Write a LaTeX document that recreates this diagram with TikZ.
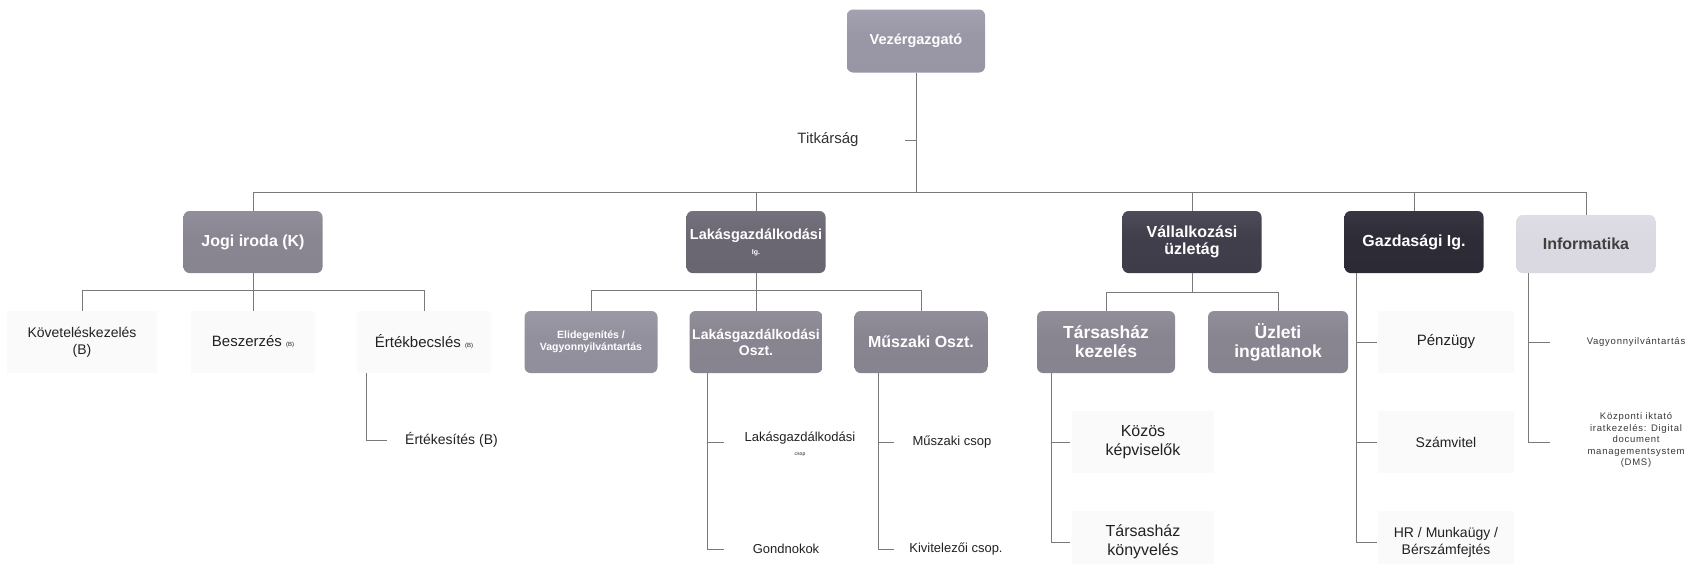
\documentclass[tikz,border=0pt]{standalone}
\usepackage{fontspec}
\setmainfont{Liberation Sans}
\definecolor{linegray}{HTML}{7A7A7A}
\definecolor{faint}{HTML}{FAFAFB}
\definecolor{txt}{HTML}{222222}
\definecolor{vezTop}{HTML}{C6C3D0}\definecolor{vezBot}{HTML}{9693A2}
\definecolor{jogiTop}{HTML}{B0ADB9}\definecolor{jogiBot}{HTML}{86838F}
\definecolor{lakTop}{HTML}{96939F}\definecolor{lakBot}{HTML}{67646F}
\definecolor{vallTop}{HTML}{7A7786}\definecolor{vallBot}{HTML}{3C3A46}
\definecolor{gazdTop}{HTML}{5A5864}\definecolor{gazdBot}{HTML}{2A2832}
\definecolor{infTop}{HTML}{ECEAF0}\definecolor{infBot}{HTML}{D9D7DF}
\definecolor{lthTop}{HTML}{B0ADB9}\definecolor{lthBot}{HTML}{85828E}
\definecolor{elidTop}{HTML}{BAB7C3}\definecolor{elidBot}{HTML}{908D9A}
\newcommand\mkshade[1]{\pgfdeclareverticalshading{#1sh}{100bp}{%
  color(0bp)=(#1Bot); color(55bp)=(#1Bot!92!#1Top); color(85bp)=(#1Bot!60!#1Top); color(100bp)=(#1Top)}}
\mkshade{vez}\mkshade{jogi}\mkshade{lak}\mkshade{vall}\mkshade{gazd}\mkshade{inf}\mkshade{lth}\mkshade{elid}
\begin{document}
\begin{tikzpicture}[x=1pt,y=-1pt,
  conn/.style={draw=linegray, line width=0.8pt},
  box/.style={rounded corners=6pt, minimum width=139pt, minimum height=62pt,
    align=center, text=white, inner sep=2pt,
    font=\bfseries\fontsize{16}{17.5}\selectfont},
  shadebox/.style={box, shading=#1sh},
  leaf/.style={fill=faint, align=center, text=txt, inner sep=2pt,
    minimum height=62pt, font=\fontsize{14}{17}\selectfont},
  plain/.style={align=center, text=txt, inner sep=0pt, font=\fontsize{14}{17}\selectfont},
  small/.style={align=center, text=txt!90, inner sep=0pt,
    font=\fontsize{9.5}{11.5}\selectfont\addfontfeatures{LetterSpace=8}}
]
\useasboundingbox (0,0) rectangle (1688,563);
\fill[white] (0,0) rectangle (1688,563);

% top
\node[shadebox=vez, minimum width=138pt, minimum height=63pt,
  font=\bfseries\fontsize{14.5}{16}\selectfont] (vez) at (916,41) {Vezérgazgató};
\node[plain, text=black!80, font=\fontsize{15}{17}\selectfont] (tit) at (828,140) {Titkárság};

% level 2
\node[shadebox=jogi] (jogi) at (253,242) {Jogi iroda (K)};
\node[shadebox=lak, font=\bfseries\fontsize{14.5}{16}\selectfont] (lak) at (756,242)
  {Lakásgazdálkodási\\[-1pt]{\fontsize{7}{8}\selectfont Ig.}};
\node[shadebox=vall] (vall) at (1192,242) {Vállalkozási\\üzletág};
\node[shadebox=gazd] (gazd) at (1414,242) {Gazdasági Ig.};
\node[shadebox=inf, minimum height=58pt, text=black!75] (inf) at (1586,244) {Informatika};

\coordinate (busy) at (0,192);
\draw[conn] (vez.south) -- (vez.south |- busy);
\draw[conn] (tit.east -| vez.south) -- ++(-11,0);
\draw[conn] (jogi.north) -- (jogi.north |- busy) -| (inf.north);
\foreach \n in {lak,vall,gazd} \draw[conn] (\n.north) -- (\n.north |- busy);

% Jogi iroda children
\node[leaf, minimum width=150pt] (kov) at (82,342) {Követeléskezelés\\(B)};
\node[leaf, minimum width=124pt, font=\fontsize{15}{17}\selectfont] (besz) at (253,342)
  {Beszerzés {\fontsize{6}{7}\selectfont (B)}};
\node[leaf, minimum width=134pt, font=\fontsize{15}{17}\selectfont] (ertb) at (424,342)
  {Értékbecslés {\fontsize{6}{7}\selectfont (B)}};
\node[plain, anchor=west] (erte) at (405,440) {Értékesítés (B)};
\coordinate (jbus) at (0,290);
\draw[conn] (jogi.south) -- (besz.north);
\draw[conn] (kov.north) -- (kov.north |- jbus) -| (ertb.north);
\draw[conn] ([xshift=10]ertb.south west) |- ([xshift=-18]erte.west);

% Lakasgazdalkodasi children
\node[shadebox=elid, minimum width=133pt,
  font=\bfseries\fontsize{10.5}{12.5}\selectfont] (elid) at (591,342) {Elidegenítés /\\Vagyonnyilvántartás};
\node[shadebox=lth, minimum width=133pt, font=\bfseries\fontsize{14}{16}\selectfont] (lako) at (756,342)
  {Lakásgazdálkodási\\Oszt.};
\node[shadebox=lth, minimum width=133pt, font=\bfseries\fontsize{16}{17}\selectfont] (musz) at (921,342)
  {Műszaki Oszt.};
\coordinate (lbus) at (0,290);
\draw[conn] (lak.south) -- (lako.north);
\draw[conn] (elid.north) -- (elid.north |- lbus) -| (musz.north);

\node[plain, font=\fontsize{13}{14}\selectfont] (lcs) at (800,444)
  {Lakásgazdálkodási\\{\fontsize{5}{6}\selectfont csop}};
\node[plain, font=\fontsize{13}{15}\selectfont] (gond) at (786,549) {Gondnokok};
\draw[conn] ([xshift=18]lako.south west) -- ([xshift=18]lako.south west |- gond.west) -- ++(17,0);
\draw[conn] ([xshift=18]lako.south west |- 0,442) -- ++(17,0);

\node[plain, font=\fontsize{13}{15}\selectfont] (mcs) at (952,442) {Műszaki csop};
\node[plain, font=\fontsize{13}{15}\selectfont] (kiv) at (956,549) {Kivitelezői csop.};
\draw[conn] ([xshift=24]musz.south west) -- ([xshift=24]musz.south west |- kiv.west) -- ++(16,0);
\draw[conn] ([xshift=24]musz.south west |- mcs.west) -- ++(16,0);

% Vallalkozasi children
\node[shadebox=lth, minimum width=138pt,
  font=\bfseries\fontsize{17.5}{19}\selectfont] (tars) at (1106,342) {Társasház\\kezelés};
\node[shadebox=lth, minimum width=140pt,
  font=\bfseries\fontsize{17.5}{19}\selectfont] (uzl) at (1278,342) {Üzleti\\ingatlanok};
\coordinate (vbus) at (0,292);
\draw[conn] (vall.south) -- (vall.south |- vbus);
\draw[conn] (tars.north) -- (tars.north |- vbus) -| (uzl.north);

\node[leaf, minimum width=142pt, font=\fontsize{16}{19}\selectfont] (kk) at (1143,442) {Közös\\képviselők};
\node[leaf, minimum width=142pt, font=\fontsize{16}{19}\selectfont] (tk) at (1143,542) {Társasház\\könyvelés};
\draw[conn] ([xshift=15]tars.south west) -- ([xshift=15]tars.south west |- tk.west) -- ++(18,0);
\draw[conn] ([xshift=15]tars.south west |- kk.west) -- ++(18,0);

% Gazdasagi children
\node[leaf, minimum width=136pt, font=\fontsize{15}{17}\selectfont] (pen) at (1446,342) {Pénzügy};
\node[leaf, minimum width=136pt] (szam) at (1446,442) {Számvitel};
\node[leaf, minimum width=136pt] (hr) at (1446,542) {HR / Munkaügy /\\Bérszámfejtés};
\draw[conn] ([xshift=12]gazd.south west) -- ([xshift=12]gazd.south west |- hr.west) -- ++(21,0);
\draw[conn] ([xshift=12]gazd.south west |- pen.west) -- ++(21,0);
\draw[conn] ([xshift=12]gazd.south west |- szam.west) -- ++(21,0);

% Informatika children
\node[small] (vny) at (1636,342) {Vagyonnyilvántartás};
\node[small] (dms) at (1636,440)
  {Központi iktató\\iratkezelés: Digital\\document\\managementsystem\\(DMS)};
\draw[conn] ([xshift=12]inf.south west) -- ([xshift=12]inf.south west |- 0,442) -- ++(22,0);
\draw[conn] ([xshift=12]inf.south west |- vny.west) -- ++(22,0);
\end{tikzpicture}
\end{document}
